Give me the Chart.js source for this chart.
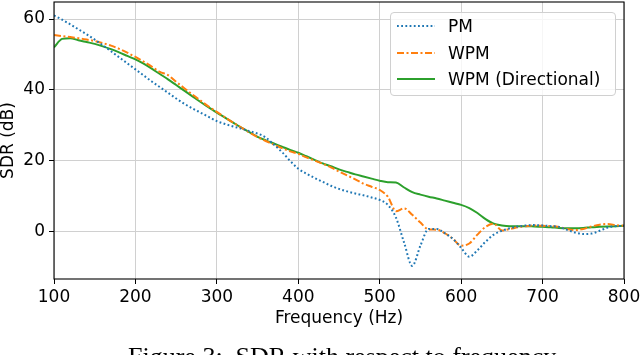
<!DOCTYPE html>
<html lang="en">
<head>
<meta charset="UTF-8"/>
<title>SDR vs frequency</title>
<script src="https://cdn.jsdelivr.net/npm/chart.js@4.4.2/dist/chart.umd.min.js"></script>
<style>
html,body{margin:0;padding:0;background:#fff;overflow:hidden}
#wrap{position:relative;width:640px;height:355px;overflow:hidden}
canvas{position:absolute;left:0;top:0}
#legend{position:absolute;left:390px;top:12px;width:224px;height:82px;border:1px solid #d0d0d0;border-radius:4px;background:rgba(255,255,255,.8);font-family:"DejaVu Sans",sans-serif;font-size:17px;color:#000}
#legend .row{position:absolute;left:0;height:20px;line-height:20px}
#legend svg{position:absolute;left:6px;top:4px}
#legend span{position:absolute;left:57px;top:0;white-space:nowrap}
#caption{position:absolute;left:128px;top:342px;font-family:"Liberation Serif",serif;font-size:26px;color:#000;white-space:nowrap}
</style>
</head>
<body>
<div id="wrap">
<canvas id="chart" width="640" height="355"></canvas>
<div id="legend"></div>
<div id="caption">Figure 3:&nbsp; SDR with respect to frequency</div>
</div>
<script>
// frequency grid (Hz)
const freqs=[100,110,120,130,140,150,160,170,180,190,200,210,220,230,240,250,260,270,280,290,
  300,310,320,330,340,350,360,370,380,390,400,410,420,430,440,450,460,470,480,490,
  500,510,520,530,540,550,560,570,580,590,600,610,620,630,640,650,660,670,680,690,
  700,710,720,730,740,750,760,770,780,790,800];

// SDR (dB) per method
const pm=[61.0,59.8,58.5,57.1,55.7,54.2,52.6,50.9,49.2,47.5,45.8,44.1,42.4,40.8,39.2,37.6,36.1,34.8,33.6,32.4,
  31.2,30.4,29.7,29.1,28.4,27.7,26.6,24.6,22.5,20.0,17.8,16.4,15.2,14.1,13.0,12.1,11.4,10.8,10.3,9.7,
  9.0,7.6,4.0,-3.1,-9.6,-3.9,0.8,0.8,-0.4,-2.0,-4.5,-7.0,-5.2,-2.8,-0.8,0.3,1.0,1.5,1.8,1.9,
  1.8,1.6,1.4,0.6,-0.2,-0.6,-0.5,0.3,1.2,1.6,1.7];
const wpm=[55.5,55.2,54.9,54.6,54.2,53.8,53.2,52.5,51.6,50.5,49.3,48.0,46.6,45.1,44.2,42.3,40.5,38.7,37.0,35.3,
  33.8,32.3,30.8,29.4,28.0,26.7,25.6,24.6,23.6,22.7,22.0,21.0,20.1,19.2,18.2,17.0,15.9,14.8,13.6,12.7,
  11.8,9.9,5.8,6.6,4.8,2.6,0.7,0.6,-0.4,-2.0,-3.9,-3.3,-0.8,1.4,2.3,0.4,0.8,1.3,1.6,1.8,
  1.7,1.6,1.4,0.8,0.5,0.8,1.5,2.0,2.2,1.9,1.7];
const wpmDir=[52.0,54.4,54.6,54.0,53.5,53.0,52.3,51.5,50.6,49.6,48.6,47.4,46.0,44.5,43.0,41.4,39.8,38.2,36.6,35.1,
  33.6,32.2,30.8,29.4,28.1,26.8,25.8,24.9,24.0,23.1,22.3,21.3,20.3,19.3,18.5,17.6,16.9,16.2,15.6,15.0,
  14.4,14.0,13.9,12.5,11.2,10.5,9.9,9.4,8.8,8.2,7.6,6.7,5.3,3.6,2.3,1.8,1.6,1.6,1.6,1.5,
  1.4,1.3,1.1,1.0,1.0,1.1,1.3,1.4,1.5,1.6,1.7];

const xTicks=[100,200,300,400,500,600,700,800];
const yTicks=[0,20,40,60];

const series=[
  {label:"PM",values:pm,color:"#1f77b4",dash:[1.8,2.4]},
  {label:"WPM",values:wpm,color:"#ff7f0e",dash:[7,2.5,2,2.5]},
  {label:"WPM (Directional)",values:wpmDir,color:"#2ca02c",dash:[]}
];

const FONT="'DejaVu Sans', sans-serif";

const frame={
  id:"frame",
  afterDatasetsDraw(c){
    const a=c.chartArea,ctx=c.ctx;
    ctx.save();
    ctx.strokeStyle="#000";ctx.lineWidth=1.1;
    ctx.strokeRect(a.left,a.top,a.right-a.left,a.bottom-a.top);
    ctx.restore();
  }
};

new Chart(document.getElementById("chart").getContext("2d"),{
  type:"line",
  data:{datasets:series.map(s=>({
    label:s.label,
    data:freqs.map((f,i)=>({x:f,y:s.values[i]})),
    borderColor:s.color,backgroundColor:s.color,
    borderWidth:2,borderDash:s.dash,borderCapStyle:"butt",
    pointRadius:0,cubicInterpolationMode:"monotone",fill:false
  }))},
  options:{
    responsive:false,animation:false,
    layout:{padding:{left:0,right:16,top:2,bottom:26}},
    plugins:{legend:{display:false},tooltip:{enabled:false}},
    scales:{
      x:{type:"linear",min:100,max:800,
        afterBuildTicks:s=>{s.ticks=xTicks.map(v=>({value:v}));},
        afterFit:s=>{s.height=50;s.paddingLeft=0;s.paddingRight=0;},
        grid:{color:"#d0d0d0",lineWidth:1,tickLength:5,tickColor:"#000",tickWidth:1},
        border:{display:false},
        ticks:{color:"#000",padding:3,maxRotation:0,font:{family:FONT,size:17}},
        title:{display:true,text:"Frequency (Hz)",color:"#000",padding:0,font:{family:FONT,size:17}}
      },
      y:{min:-13.3,max:64.8,
        afterBuildTicks:s=>{s.ticks=yTicks.map(v=>({value:v}));},
        afterFit:s=>{s.width=54;s.paddingTop=0;s.paddingBottom=0;},
        grid:{color:"#d0d0d0",lineWidth:1,tickLength:5,tickColor:"#000",tickWidth:1},
        border:{display:false},
        ticks:{color:"#000",padding:4,font:{family:FONT,size:17}},
        title:{display:true,text:"SDR (dB)",color:"#000",padding:0,font:{family:FONT,size:17,lineHeight:1}}
      }
    }
  },
  plugins:[frame]
});

// legend
const lg=document.getElementById("legend");
series.forEach((s,i)=>{
  const row=document.createElement("div");
  row.className="row";
  row.style.top=(3+i*26.5)+"px";
  row.style.width="100%";
  row.innerHTML=`<svg width="40" height="12"><line x1="0" y1="6" x2="38" y2="6" stroke="${s.color}" stroke-width="2" stroke-dasharray="${s.dash.length?s.dash.join(" "):"none"}"/></svg><span>${s.label}</span>`;
  lg.appendChild(row);
});
</script>
</body>
</html>
